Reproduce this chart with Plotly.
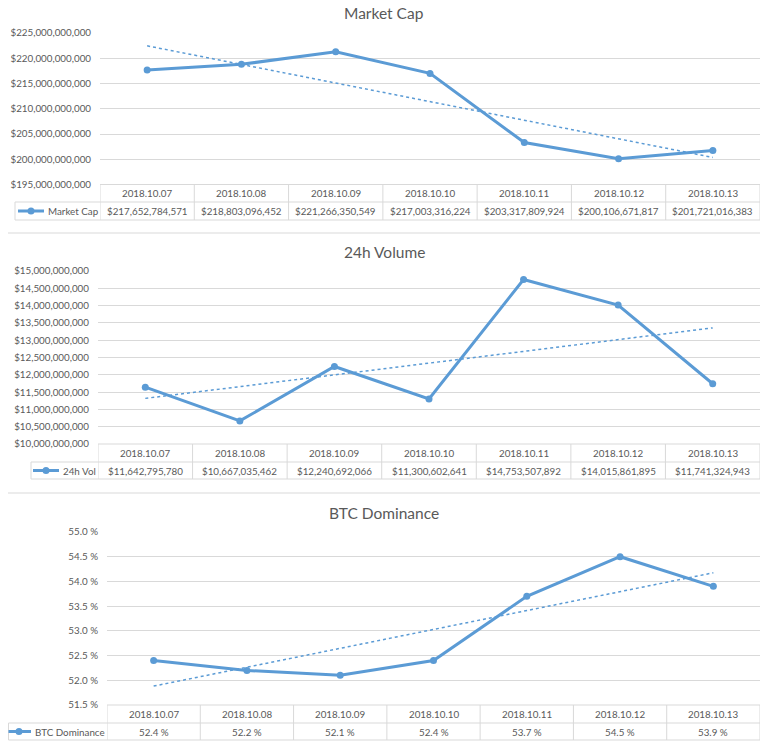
import numpy as np
import plotly.graph_objects as go

dates = ["2018.10.07", "2018.10.08", "2018.10.09", "2018.10.10", "2018.10.11", "2018.10.12", "2018.10.13"]
market_cap = [217652784571, 218803096452, 221266350549, 217003316224, 203317809924, 200106671817, 201721016383]
volume_24h = [11642795780, 10667035462, 12240692066, 11300602641, 14753507892, 14015861895, 11741324943]
btc_dominance = [52.4, 52.2, 52.1, 52.4, 53.7, 54.5, 53.9]

# page is 768x752; the browser's default 8px body margin surrounds the figure
OFF = 8
W, H = 768 - 2 * OFF, 752 - 2 * OFF
BLUE = "#5B9BD5"
TXT = "#595959"
GRID = "#D9D9D9"
FONT = "Lato"
FS = 9.8

def px(x):
    return min(max((x - OFF) / W, 0), 1)

def py(y):
    return min(max(1 - (y - OFF) / H, 0), 1)

panels = [
    dict(name="Market Cap", title="Market Cap", vals=market_cap, rng=[195e9, 225e9], dtick=5e9,
         fmt="$,.0f", suffix="", cellfmt=lambda v: "${:,}".format(v),
         left=100, right=761, top=33, tab_top=184.5, tab_mid=202, tab_bot=220, leg_left=15,
         icon=(18, 44), text_x=46, title_y=13),
    dict(name="24h Vol", title="24h Volume", vals=volume_24h, rng=[10e9, 15e9], dtick=0.5e9,
         fmt="$,.0f", suffix="", cellfmt=lambda v: "${:,}".format(v),
         left=98, right=761, top=271, tab_top=444, tab_mid=462, tab_bot=479, leg_left=31,
         icon=(33, 59), text_x=61, title_y=252),
    dict(name="BTC Dominance", title="BTC Dominance", vals=btc_dominance, rng=[51.5, 55.0], dtick=0.5,
         fmt=".1f", suffix=" %", cellfmt=lambda v: "{:.1f} %".format(v),
         left=107, right=760, top=532, tab_top=705, tab_mid=723, tab_bot=740, leg_left=8.5,
         icon=(8.5, 31), text_x=33, title_y=513),
]

fig = go.Figure()
shapes = []
annotations = []
xs = list(range(len(dates)))

for k, p in enumerate(panels):
    n = "" if k == 0 else str(k + 1)
    xa, ya = "x" + n, "y" + n
    fig.add_trace(go.Scatter(
        x=xs, y=p["vals"], mode="lines+markers", name=p["name"], showlegend=False,
        line=dict(color=BLUE, width=3), marker=dict(color=BLUE, size=7),
        xaxis=xa, yaxis=ya, hoverinfo="skip"))
    slope, icpt = np.polyfit(xs, p["vals"], 1)
    trend = [slope * x + icpt for x in xs]
    fig.add_trace(go.Scatter(
        x=xs, y=trend, mode="lines", showlegend=False,
        line=dict(color=BLUE, width=1.5, dash="dot"),
        xaxis=xa, yaxis=ya, hoverinfo="skip"))

    fig.update_layout(**{
        "xaxis" + n: dict(domain=[px(p["left"]), px(p["right"])], range=[-0.5, 6.5],
                          showticklabels=False, showgrid=False, zeroline=False, fixedrange=True,
                          automargin=False, anchor=ya),
        "yaxis" + n: dict(domain=[py(p["tab_top"]), py(p["top"])], range=p["rng"], dtick=p["dtick"],
                          tick0=p["rng"][0], tickformat=p["fmt"], ticksuffix=p["suffix"],
                          showgrid=True, gridcolor=GRID, gridwidth=1, zeroline=False,
                          ticks="", ticklabelstandoff=8, fixedrange=True, automargin=False,
                          tickfont=dict(family=FONT, size=FS, color=TXT), anchor=xa),
    })

    annotations.append(dict(text=p["title"], x=px(384), y=py(p["title_y"]), xref="paper", yref="paper",
                            xanchor="center", yanchor="middle", showarrow=False,
                            font=dict(family=FONT, size=15.5, color=TXT)))
    yt, ym, yb = py(p["tab_top"]), py(p["tab_mid"]), py(p["tab_bot"])
    lc = dict(color=GRID, width=1)
    shapes.append(dict(type="line", xref="paper", yref="paper", x0=px(p["left"]), x1=px(p["right"]), y0=yt, y1=yt, line=lc))
    for yy in (ym, yb):
        shapes.append(dict(type="line", xref="paper", yref="paper", x0=px(p["leg_left"]), x1=px(p["right"]), y0=yy, y1=yy, line=lc))
    shapes.append(dict(type="line", xref="paper", yref="paper", x0=px(p["leg_left"]), x1=px(p["leg_left"]), y0=ym, y1=yb, line=lc))
    for i in range(len(dates) + 1):
        shapes.append(dict(type="line", xref=xa, yref="paper", x0=i - 0.5, x1=i - 0.5, y0=yt, y1=yb, line=lc))
    for i, d in enumerate(dates):
        annotations.append(dict(text=d, x=i, y=(yt + ym) / 2, xref=xa, yref="paper", showarrow=False,
                                xanchor="center", yanchor="middle",
                                font=dict(family=FONT, size=FS, color=TXT)))
        annotations.append(dict(text=p["cellfmt"](p["vals"][i]), x=i, y=(ym + yb) / 2, xref=xa, yref="paper",
                                showarrow=False, xanchor="center", yanchor="middle",
                                font=dict(family=FONT, size=FS, color=TXT)))

    # legend key inside the data row
    ymid = (ym + yb) / 2
    i0, i1 = p["icon"]
    shapes.append(dict(type="line", xref="paper", yref="paper", x0=px(i0), x1=px(i1), y0=ymid, y1=ymid,
                       line=dict(color=BLUE, width=3)))
    shapes.append(dict(type="circle", xref="paper", yref="paper", xsizemode="pixel", ysizemode="pixel",
                       xanchor=px((i0 + i1) / 2 if k != 2 else 19), yanchor=ymid,
                       x0=-3.5, x1=3.5, y0=-3.5, y1=3.5, fillcolor=BLUE, line=dict(width=0)))
    annotations.append(dict(text=p["name"], x=px(p["text_x"]), y=ymid, xref="paper", yref="paper",
                            xanchor="left", yanchor="middle", showarrow=False,
                            font=dict(family=FONT, size=FS, color=TXT)))

for yy in (233, 493):
    shapes.append(dict(type="line", xref="paper", yref="paper", x0=0, x1=1, y0=py(yy), y1=py(yy),
                       line=dict(color=GRID, width=1)))

fig.update_layout(width=W, height=H, margin=dict(l=0, r=0, t=0, b=0, autoexpand=False),
                  paper_bgcolor="white", plot_bgcolor="white", showlegend=False,
                  shapes=shapes, annotations=annotations, hovermode=False)

fig.write_html("out.html", config={"displayModeBar": False, "staticPlot": True})
